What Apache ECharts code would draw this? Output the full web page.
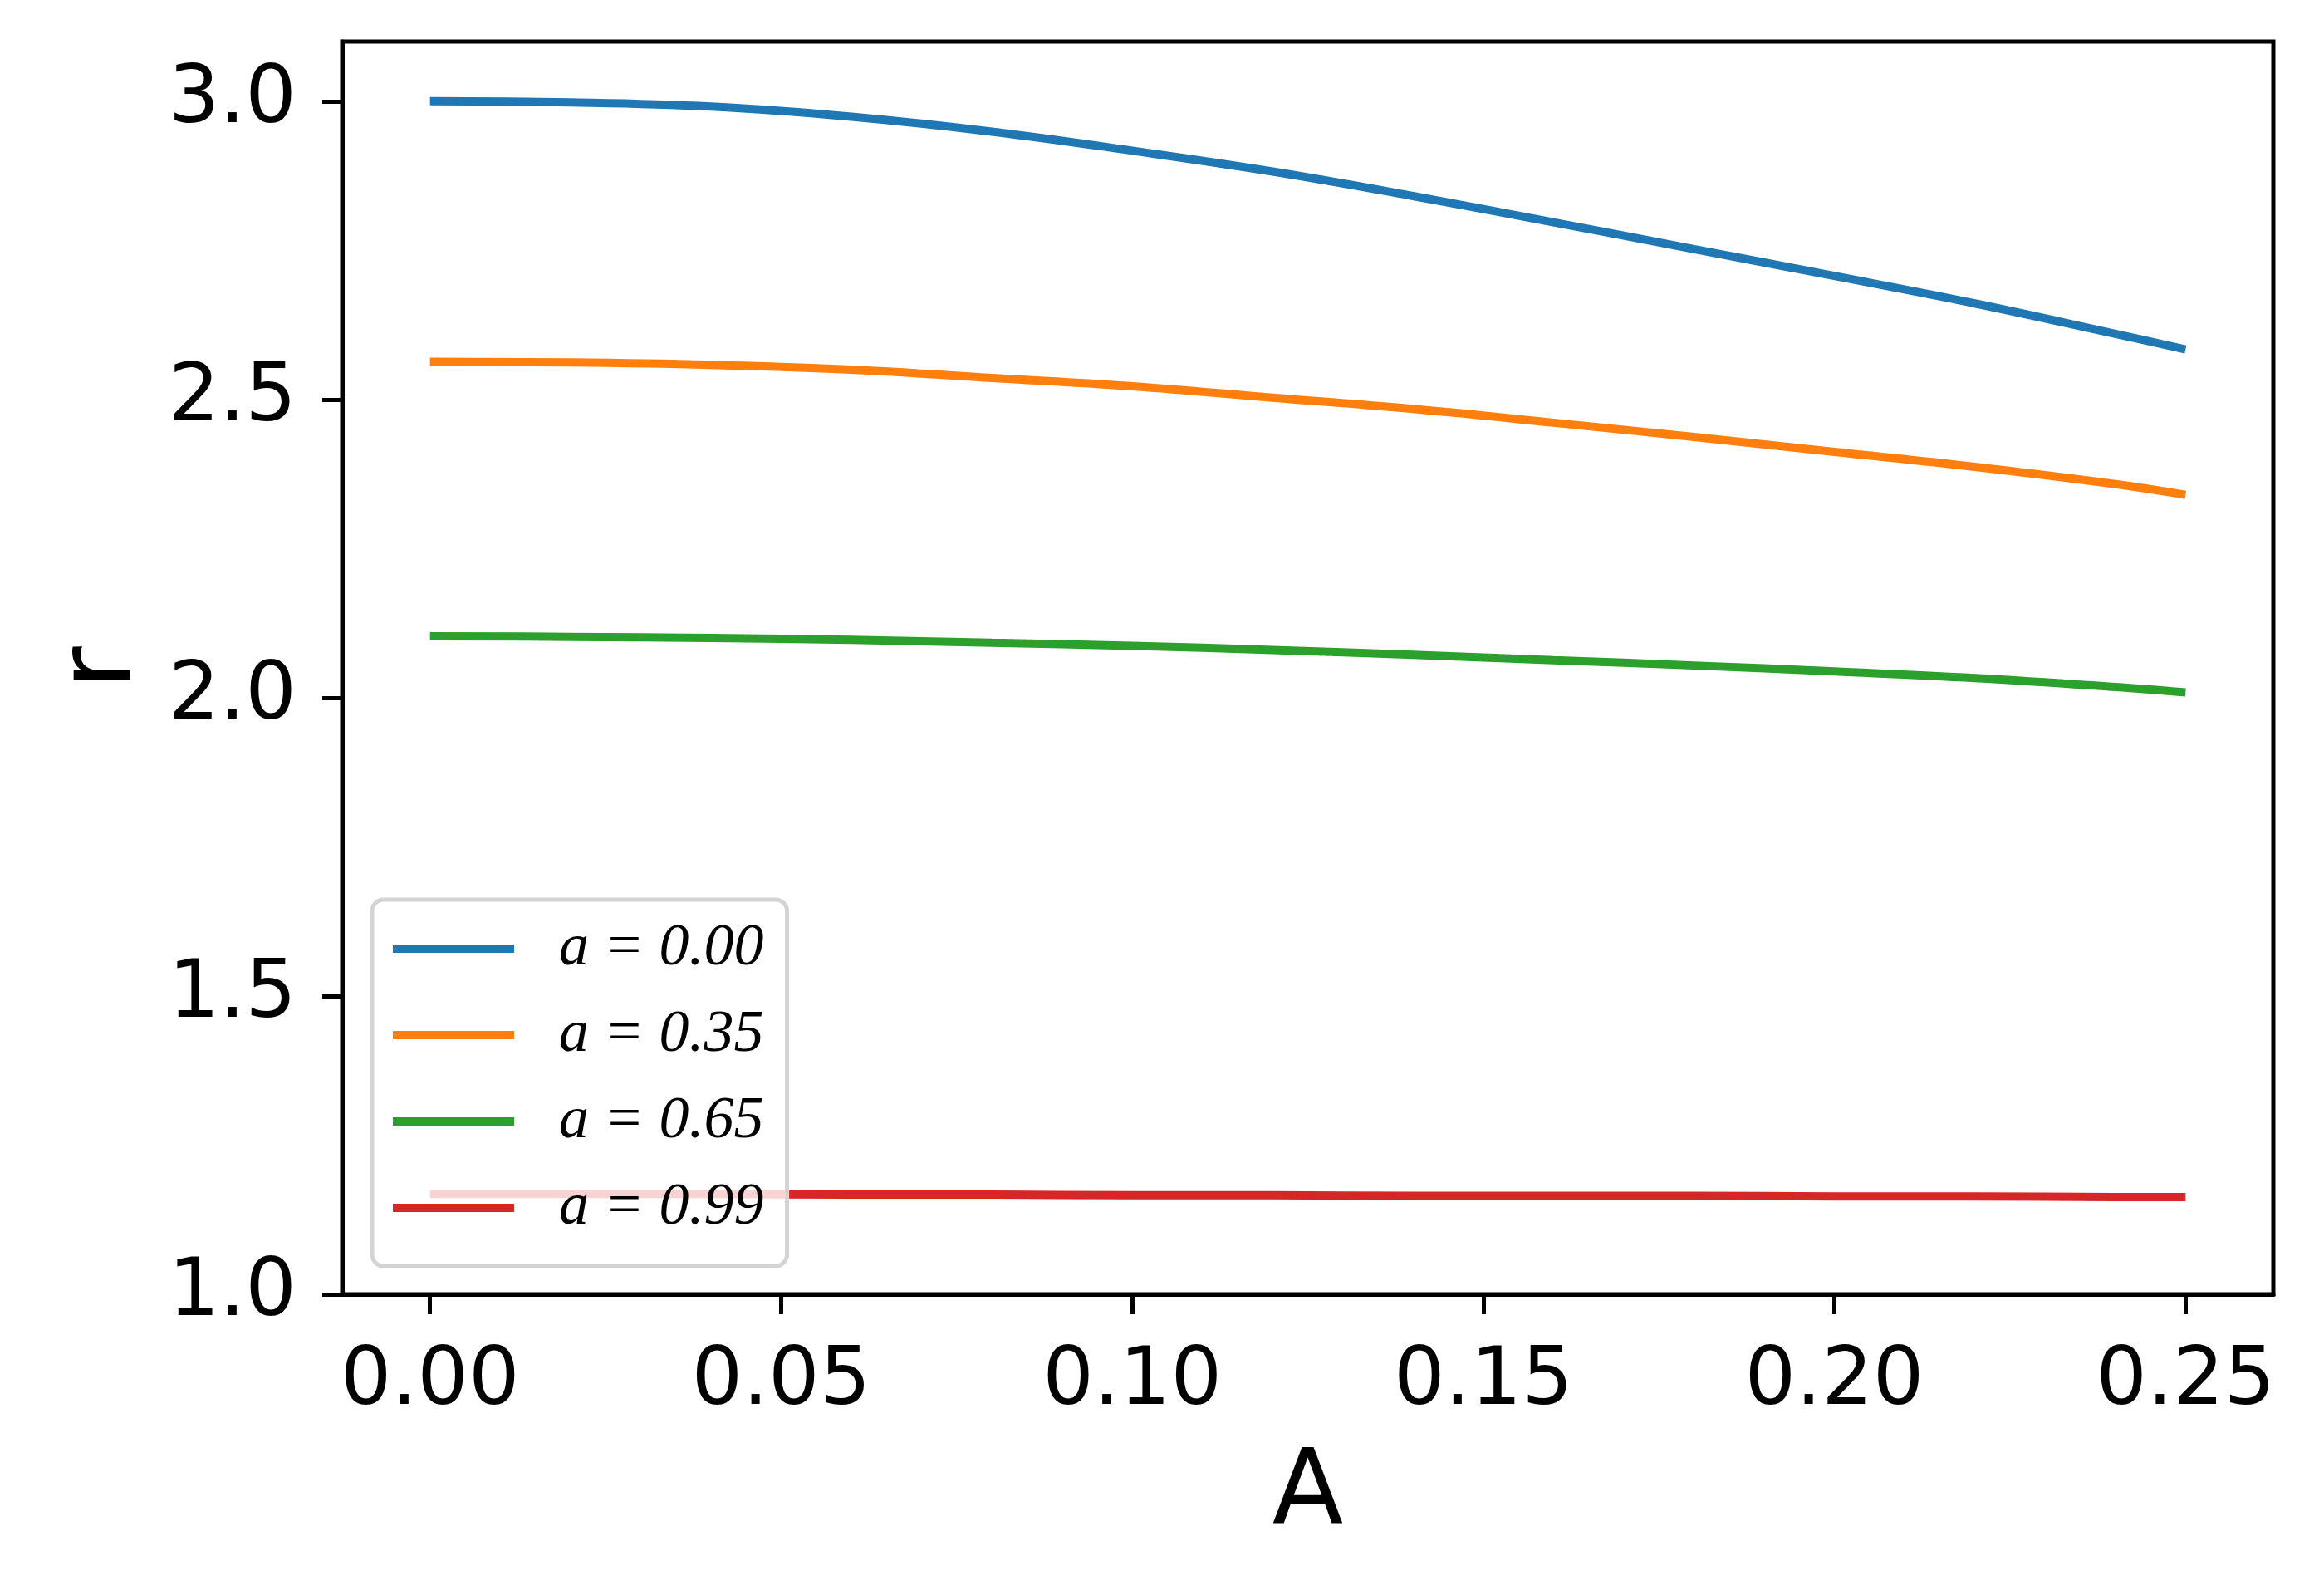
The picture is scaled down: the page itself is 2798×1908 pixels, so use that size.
<!DOCTYPE html>
<html>
<head>
<meta charset="utf-8">
<script src="https://cdn.jsdelivr.net/npm/echarts@6/dist/echarts.min.js"></script>
<style>
  html, body { margin: 0; padding: 0; background: #fff; }
  #chart { width: 2798px; height: 1908px; }
</style>
</head>
<body>
<div id="chart"></div>
<script>
var aValues = [0, 0.02, 0.04, 0.06, 0.08, 0.10, 0.12, 0.14, 0.16, 0.18, 0.20, 0.22, 0.24, 0.25];
var r000 = [3.000, 2.998, 2.991, 2.974, 2.949, 2.917, 2.882, 2.841, 2.797, 2.752, 2.707, 2.661, 2.610, 2.584];
var r035 = [2.563, 2.562, 2.558, 2.550, 2.536, 2.522, 2.503, 2.484, 2.461, 2.437, 2.412, 2.387, 2.358, 2.340];
var r065 = [2.103, 2.102, 2.100, 2.097, 2.092, 2.087, 2.080, 2.072, 2.063, 2.054, 2.044, 2.033, 2.018, 2.009];
var r099 = [1.168, 1.168, 1.168, 1.167, 1.167, 1.166, 1.166, 1.165, 1.165, 1.165, 1.164, 1.164, 1.163, 1.163];

var seriesNames = ['a = 0.00', 'a = 0.35', 'a = 0.65', 'a = 0.99'];
var seriesColors = ['#1f77b4', '#ff7f0e', '#2ca02c', '#d62728'];
var xTicks = [0, 0.05, 0.10, 0.15, 0.20, 0.25];
var yTicks = [1.0, 1.5, 2.0, 2.5, 3.0];

function pairs(ys) {
  var out = [];
  for (var i = 0; i < aValues.length; i++) {
    out.push([aValues[i], ys[i]]);
  }
  return out;
}

var allR = [r000, r035, r065, r099];
var series = [];
for (var i = 0; i < allR.length; i++) {
  series.push({
    name: seriesNames[i],
    type: 'line',
    data: pairs(allR[i]),
    smooth: 0.4,
    symbol: 'none',
    color: seriesColors[i],
    lineStyle: { width: 10, color: seriesColors[i] },
    z: 2
  });
}

var chart = echarts.init(document.getElementById('chart'));
chart.setOption({
  backgroundColor: '#ffffff',
  animation: false,
  grid: {
    left: 412, right: 61, top: 50, bottom: 350,
    outerBoundsMode: 'none',
    show: true,
    borderColor: '#000',
    borderWidth: 5,
    backgroundColor: 'transparent'
  },
  xAxis: {
    type: 'value',
    min: -0.0125,
    max: 0.2625,
    name: 'A',
    nameLocation: 'middle',
    nameGap: 180,
    nameTextStyle: { fontFamily: 'DejaVu Sans', fontSize: 125, color: '#000' },
    axisLine: { show: true, onZero: false, lineStyle: { color: '#000', width: 5 } },
    axisTick: { show: true, inside: false, length: 24, customValues: xTicks, lineStyle: { color: '#000', width: 5 } },
    axisLabel: {
      customValues: xTicks,
      margin: 58,
      fontFamily: 'DejaVu Sans', fontSize: 97, color: '#000',
      formatter: function (v) { return v.toFixed(2); }
    },
    splitLine: { show: false }
  },
  yAxis: {
    type: 'value',
    min: 1.0,
    max: 3.1,
    name: 'r',
    nameLocation: 'middle',
    nameGap: 225,
    nameTextStyle: { fontFamily: 'DejaVu Sans', fontSize: 125, color: '#000' },
    axisLine: { show: true, onZero: false, lineStyle: { color: '#000', width: 5 } },
    axisTick: { show: true, inside: false, length: 24, customValues: yTicks, lineStyle: { color: '#000', width: 5 } },
    axisLabel: {
      customValues: yTicks,
      margin: 55,
      fontFamily: 'DejaVu Sans', fontSize: 97, color: '#000',
      formatter: function (v) { return v.toFixed(1); }
    },
    splitLine: { show: false }
  },
  legend: {
    orient: 'vertical',
    left: 448,
    top: 1083,
    padding: [19, 28, 30, 25],
    itemGap: 24,
    itemWidth: 146,
    itemHeight: 10,
    icon: 'rect',
    selectedMode: false,
    backgroundColor: 'rgba(255,255,255,0.8)',
    borderColor: '#d4d4d4',
    borderWidth: 5,
    borderRadius: 14,
    textStyle: {
      fontFamily: 'Liberation Serif',
      fontStyle: 'italic',
      fontSize: 72,
      lineHeight: 80,
      color: '#000',
      padding: [0, 0, 0, 49]
    },
    data: seriesNames
  },
  series: series
});
</script>
</body>
</html>
